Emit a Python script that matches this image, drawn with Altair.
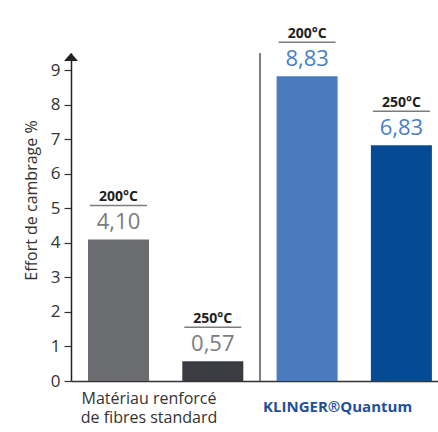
import altair as alt
import pandas as pd

# Bending strain (%) for a standard fibre-reinforced material vs KLINGER Quantum
categories = ["std_200", "std_250", "kq_200", "kq_250"]
temperatures = ["200°C", "250°C", "200°C", "250°C"]
values = [4.10, 0.57, 8.83, 6.83]
bar_colors = ["#6b6c70", "#3b3c41", "#4a7bbf", "#044b94"]
value_colors = ["#7b7c80", "#7b7c80", "#4a7fc4", "#4a7fc4"]
y_ticks = list(range(0, 10))
y_max = 9.5
std_label = "Matériau renforcé\nde fibres standard"
kq_label = "KLINGER®Quantum"

FONT = "Open Sans"
INK = "#333333"

bars_df = pd.DataFrame({
    "cat": categories,
    "temp": temperatures,
    "value": values,
    "label": [f"{v:.2f}".replace(".", ",") for v in values],
})

x_scale = alt.Scale(domain=categories, paddingInner=0.353, paddingOuter=0.1225, align=0.736)
y_scale = alt.Scale(domain=[0, y_max], nice=False)

x_axis = alt.Axis(labels=False, ticks=False, title=None,
                  domainColor=INK, domainWidth=1.5)
y_axis = alt.Axis(values=y_ticks, title="Effort de cambrage %", grid=False,
                  tickSize=7, tickColor=INK, tickWidth=1.2,
                  domainColor="#222222", domainWidth=1.5,
                  labelFont=FONT, labelFontSize=17, labelColor=INK,
                  labelPadding=4, labelOverlap=False,
                  titleFont=FONT, titleFontSize=16, titleFontWeight="normal",
                  titleColor=INK, titleX=-40, titleY=147,
                  titleAlign="center", titleBaseline="middle")


def xe(**kw):
    return alt.X("cat:N", scale=x_scale, sort=categories, axis=x_axis, **kw)


def ye(field="value:Q"):
    return alt.Y(field, scale=y_scale, axis=y_axis)


base = alt.Chart(bars_df)

bars = base.mark_bar().encode(
    x=xe(), y=ye(),
    color=alt.Color("cat:N", scale=alt.Scale(domain=categories, range=bar_colors), legend=None),
)

value_text = base.mark_text(baseline="alphabetic", dy=-10, fontSize=22, font=FONT).encode(
    x=xe(), y=ye(),
    text="label:N",
    color=alt.Color("cat:N", scale=alt.Scale(domain=categories, range=value_colors), legend=None),
)

temp_text = base.mark_text(baseline="alphabetic", dy=-38, fontSize=14, fontWeight="bold",
                           font=FONT, color="#1e1e1e").encode(
    x=xe(), y=ye(), text="temp:N",
)

underline = base.mark_tick(size=57, thickness=1.5, color="#444444", yOffset=-34).encode(
    x=xe(), y=ye(),
)

# vertical divider between the two material groups
divider = alt.Chart(pd.DataFrame({"cat": [categories[2]], "lo": [0.0], "hi": [y_max]})).mark_rule(
    color="#555555", strokeWidth=1.5, xOffset=-16.6
).encode(
    x=xe(bandPosition=0),
    y=ye("lo:Q"),
    y2="hi:Q",
)

# arrow head on top of the value axis
arrow = alt.Chart(pd.DataFrame({"v": [y_max]})).mark_point(
    shape="M0,0 L-1,1.15 L1,1.15 Z", size=196, filled=True, opacity=1, color="#222222"
).encode(
    x=alt.value(0),
    y=ye("v:Q"),
)

std_text = alt.Chart(pd.DataFrame({"cat": [categories[0]], "t": [std_label], "z": [0.0]})).mark_text(
    baseline="top", align="center", dy=10, fontSize=16, lineHeight=19,
    lineBreak="\n", font=FONT, color=INK
).encode(
    x=xe(bandPosition=1),
    y=ye("z:Q"),
    text="t:N",
)

kq_text = alt.Chart(pd.DataFrame({"cat": [categories[2]], "t": [kq_label], "z": [0.0]})).mark_text(
    baseline="top", align="center", dy=19, fontSize=15, fontWeight="bold",
    font=FONT, color="#1e4f9c"
).encode(
    x=xe(bandPosition=1),
    y=ye("z:Q"),
    text="t:N",
)

chart = alt.layer(
    bars, value_text, temp_text, underline, divider, arrow, std_text, kq_text
).resolve_scale(color="independent").properties(
    width=367, height=328,
    padding={"left": 71, "top": 53, "right": 0, "bottom": 51},
    autosize=alt.AutoSizeParams(type="none"),
    background="white",
).configure_view(stroke=None)

chart.save("out.html", embed_options={"renderer": "svg", "actions": False})
